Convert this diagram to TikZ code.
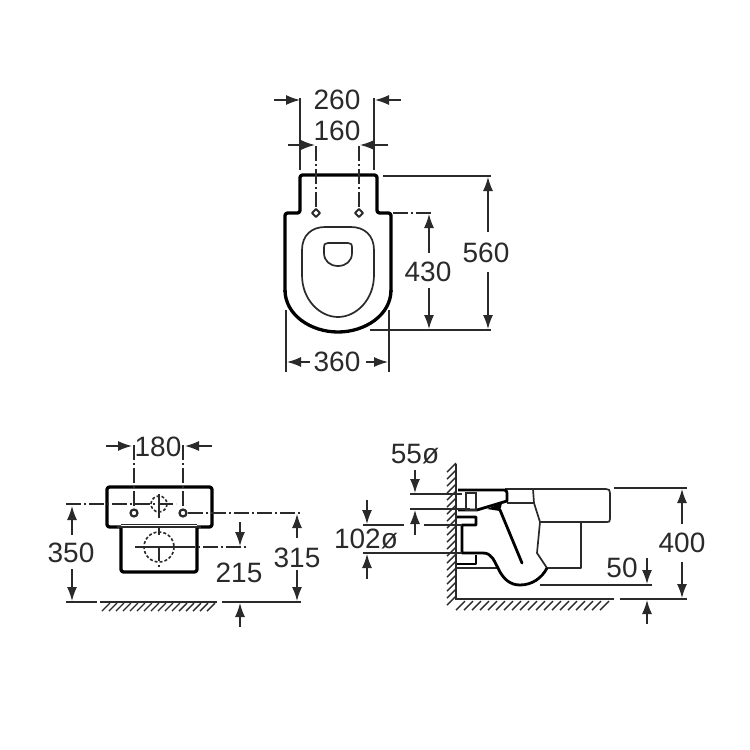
\documentclass[tikz,border=0pt]{standalone}
\usepackage{fontspec}
\setmainfont{Liberation Sans}
\usetikzlibrary{arrows.meta}
\definecolor{ink}{HTML}{2A2A2A}
\tikzset{
  x=1pt,y=-1pt,
  body/.style={line width=3.3pt,black,rounded corners=2.5pt,line join=round},
  mid/.style={line width=1.7pt,ink,line join=round},
  thin/.style={line width=1.3pt,ink},
  dimline/.style={line width=1.3pt,ink},
  dimarrow/.style={line width=1.3pt,ink,-{Latex[length=14pt,width=10pt]}},
  dashdot/.style={line width=1.3pt,ink,dash pattern=on 15pt off 3pt on 2pt off 3pt},
  hole/.style={line width=1.6pt,ink,dash pattern=on 3pt off 2pt},
  hatchline/.style={line width=1.4pt,ink},
  lbl/.style={inner sep=0pt,text=ink,font=\fontsize{28}{30}\selectfont}
}
\begin{document}
\begin{tikzpicture}
\useasboundingbox (0,0) rectangle (750,750);
% ---------- top view
\draw[body] (285,292) -- (285,213) -- (300,213) -- (300,175) -- (377,175) -- (377,213) -- (391,213) -- (391,292);
\draw[line width=3.3pt,black] (391,290) .. controls (391,315) and (365,332) .. (338,332) .. controls (311,332) and (285,315) .. (285,290);
\draw[mid] (302,275) -- (302,250) .. controls (302,235) and (312,227) .. (325,227) -- (351,227) .. controls (364,227) and (374,235) .. (374,250) -- (374,275) .. controls (374,300) and (356,317) .. (338,317) .. controls (320,317) and (302,300) .. (302,275) -- cycle;
\draw[mid] (324,248) .. controls (324,244) and (325,243) .. (328,243) -- (348,243) .. controls (351,243) and (352,244) .. (352,248) -- (352,253) .. controls (352,261) and (346,266) .. (338,266) .. controls (330,266) and (324,261) .. (324,253) -- cycle;
\foreach \cx in {316,359}{
  \draw[line width=2pt,ink,line join=round] (\cx-4,213) -- (\cx,209) -- (\cx+4,213) -- (\cx,217) -- cycle;
  \draw[dashdot] (\cx,146) -- (\cx,209);
}
\draw[dimline] (300,98) -- (300,170);
\draw[dimline] (374,98) -- (374,170);
\draw[dimarrow] (274,100) -- (300,100);
\draw[dimarrow] (401,100) -- (375,100);
\draw[dimarrow] (288,145) -- (315,145);
\draw[dimarrow] (388,145) -- (360,145);
\node[lbl] (t260) at (337,100) {260};
\node[lbl] (t160) at (337,131) {160};
\draw[dimline] (383,176) -- (491,176);
\draw[dimline] (370,330) -- (491,330);
\draw[dashdot] (393,213) -- (433,213);
\draw[dimarrow] (488,232) -- (488,177);
\draw[dimarrow] (488,272) -- (488,329);
\node[lbl] (t560) at (486,253) {560};
\draw[dimarrow] (429,253) -- (429,214);
\draw[dimarrow] (429,288) -- (429,329);
\node[lbl] (t430) at (428,272) {430};
\draw[dimline] (286,310) -- (286,372);
\draw[dimline] (389,310) -- (389,372);
\draw[dimarrow] (310,362) -- (287,362);
\draw[dimarrow] (366,362) -- (388,362);
\node[lbl] (t360) at (337,362) {360};
% ---------- front view
\draw[body] (121,527) -- (107,527) -- (107,487) -- (212,487) -- (212,527) -- (197,527);
\draw[body] (121,527) -- (121,572) -- (197,572) -- (197,527);
\draw[line width=1pt,ink] (121,524) -- (197,524);
\draw[line width=1.6pt,ink] (117,527) -- (201,527);
\foreach \cx in {134,183}{
  \draw[line width=2.2pt,ink] (\cx,513) circle (3.5);
  \draw[dashdot] (\cx,445) -- (\cx,510);
}
\draw[dimarrow] (106,446) -- (132,446);
\draw[dimarrow] (212,446) -- (185,446);
\node[lbl] (t180) at (158,447) {180};
\draw[dashdot] (66,504) -- (176,504);
\draw[hole] (159,504) circle (8);
\draw[thin] (159,494) -- (159,518);
\draw[line width=1.7pt,ink] (159,526) -- (159,535);
\draw[hole] (159,547) circle (15);
\draw[thin] (135,547) -- (180,547);
\draw[thin] (159,547) -- (159,561);
\draw[thin] (159,565) -- (159,567);
\draw[dashdot] (180,547) -- (246,547);
\draw[dashdot] (188,513) -- (301,513);
\draw[dimarrow] (72,535) -- (72,506);
\draw[dimarrow] (72,569) -- (72,601);
\node[lbl] (t350) at (71,553) {350};
\draw[dimline] (66,602) -- (97,602);
\draw[line width=2pt,ink] (100,602) -- (217,602);
\foreach \hx in {102,109,...,209}{\draw[hatchline] (\hx,611) -- (\hx+8,603);}
\draw[dimline] (222,602) -- (301,602);
\draw[dimarrow] (297,538) -- (297,514);
\draw[dimarrow] (297,570) -- (297,601);
\node[lbl] (t315) at (297,558) {315};
\draw[dimarrow] (240,522) -- (240,546);
\draw[dimarrow] (240,627) -- (240,603);
\node[lbl] (t215) at (239,573) {215};
% ---------- side view
\draw[line width=1.5pt,ink] (456,464) -- (456,599) -- (614,599);
\foreach \hy in {463,470,...,596}{\draw[hatchline] (456,\hy) -- (447,\hy+9);}
\foreach \hx in {456,464,...,600}{\draw[hatchline] (\hx,610) -- (\hx+9,601);}
\draw[mid] (505,489) -- (606,489) .. controls (609,489) and (610,490) .. (610,493) -- (610,519) .. controls (610,522) and (609,522) .. (607,522) -- (540,522);
\draw[mid] (581,522) -- (581,568) -- (546,568);
\draw[mid] (533,489) -- (534,503) -- (540,522) -- (537,553) -- (547,568);
\draw[mid] (507,503) -- (534,503);
\draw[thin] (456,568) -- (498,568);
\draw[line width=2.8pt,black,line join=round] (458,490) -- (504,490) .. controls (506,490) and (507,491) .. (507,493) -- (507,501) -- (477,510) -- (458,510);
\draw[line width=1.7pt,ink] (466,493) rectangle (476,510);
\fill[black] (487,509) -- (502,503) -- (500,511) -- cycle;
\draw[line width=2.8pt,black,line cap=round] (500,510) -- (522,563);
\draw[line width=2.8pt,black,line join=round] (457,517) -- (476,517) -- (476,525) -- (462,525) -- (462,553) -- (483,553) .. controls (492,553) and (494,561) .. (498,568) .. controls (503,579) and (510,585) .. (520,585) .. controls (532,585) and (542,578) .. (547,568);
\draw[line width=2.8pt,black,line join=round] (476,555) -- (476,564) -- (457,564);
\draw[mid] (540,585) -- (652,585);
\draw[dimline] (410,494) -- (462,494);
\draw[dimline] (410,509) -- (470,509);
\draw[dimarrow] (415,470) -- (415,493);
\draw[dimarrow] (415,535) -- (415,510);
\node[lbl] (t55) at (415,454) {55ø};
\draw[dimline] (363,525) -- (404,525);
\draw[dimline] (424,525) -- (462,525);
\draw[dimline] (363,553) -- (462,553);
\draw[dimarrow] (367,500) -- (367,524);
\draw[dimarrow] (367,579) -- (367,554);
\node[lbl] (t102) at (366,539) {102ø};
\draw[dimline] (614,488) -- (687,488);
\draw[dimline] (620,599) -- (687,599);
\draw[dimarrow] (682,524) -- (682,489);
\draw[dimarrow] (682,562) -- (682,598);
\node[lbl] (t400) at (682,543) {400};
\node[lbl] (t50) at (622,568) {50};
\draw[dimarrow] (647,558) -- (647,584);
\draw[dimarrow] (647,624) -- (647,600);
\end{tikzpicture}
\end{document}
